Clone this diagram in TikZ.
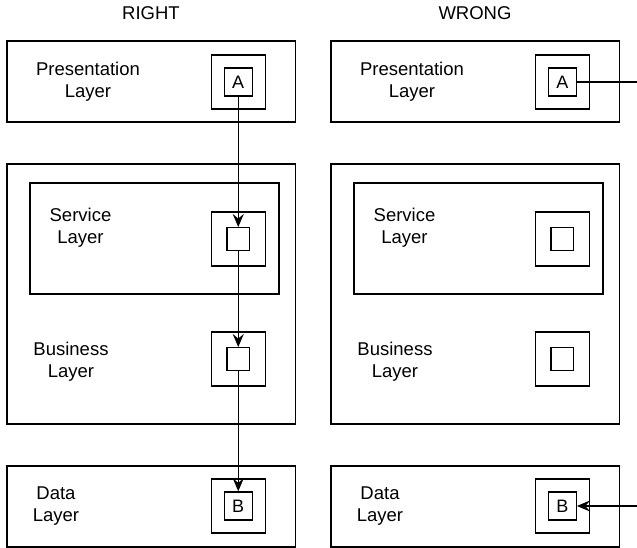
\documentclass[tikz,border=0pt]{standalone}
\usepackage{fontspec}
\setmainfont{Liberation Sans}
\usetikzlibrary{arrows.meta}
\tikzset{
  layer/.style={draw, line width=1.4pt, inner sep=0pt},
  slot/.style={draw, line width=1.4pt, minimum size=54pt, inner sep=0pt},
  cell/.style={draw, line width=1.4pt, minimum size=28pt, inner sep=0pt, font=\fontsize{18}{21}\selectfont},
  emptycell/.style={draw, line width=1.4pt, minimum size=22.5pt, inner sep=0pt},
  lbl/.style={align=center, inner sep=0pt, font=\fontsize{18.5}{22}\selectfont},
  call/.style={line width=1.4pt, -{Stealth[length=13pt,width=11pt,inset=4.5pt]}}
}
\begin{document}
\begin{tikzpicture}[x=1pt,y=1pt,yscale=-1,xscale=1]
\useasboundingbox (0,0) rectangle (637,548);
% headings
\node (right) [lbl] at (151,13.5) {RIGHT};
\node (wrong) [lbl] at (475,13.5) {WRONG};
% left column
\node (pres1) [layer, minimum width=288.5pt, minimum height=81pt] at (151.25,81.5) {};
\node (mid1) [layer, minimum width=288.5pt, minimum height=260pt] at (151.25,294) {};
\node (serv1) [layer, minimum width=249pt, minimum height=111pt] at (154.5,238.5) {};
\node (data1) [layer, minimum width=288.5pt, minimum height=81pt] at (151.25,506.5) {};
\node (presl1) [lbl] at (88,82) {Presentation\\Layer};
\node (servl1) [lbl] at (80.5,228) {Service\\Layer};
\node (busl1) [lbl] at (71,362) {Business\\Layer};
\node (datal1) [lbl] at (56,506) {Data\\Layer};
\node (sA1) [slot] at (238.25,82) {};
\node (cA1) [cell] at (238.25,82) {A};
\node (sS1) [slot] at (238.25,239) {};
\node (cS1) [emptycell] at (238.25,239) {};
\node (sU1) [slot] at (238.25,359) {};
\node (cU1) [emptycell] at (238.25,359) {};
\node (sB1) [slot] at (238.25,506) {};
\node (cB1) [cell] at (238.25,506) {B};
% right column
\node (pres2) [layer, minimum width=288.5pt, minimum height=81pt] at (475.25,81.5) {};
\node (mid2) [layer, minimum width=288.5pt, minimum height=260pt] at (475.25,294) {};
\node (serv2) [layer, minimum width=249pt, minimum height=111pt] at (478.5,238.5) {};
\node (data2) [layer, minimum width=288.5pt, minimum height=81pt] at (475.25,506.5) {};
\node (presl2) [lbl] at (412,82) {Presentation\\Layer};
\node (servl2) [lbl] at (404.5,228) {Service\\Layer};
\node (busl2) [lbl] at (395,362) {Business\\Layer};
\node (datal2) [lbl] at (380,506) {Data\\Layer};
\node (sA2) [slot] at (562.25,82) {};
\node (cA2) [cell] at (562.25,82) {A};
\node (sS2) [slot] at (562.25,239) {};
\node (cS2) [emptycell] at (562.25,239) {};
\node (sU2) [slot] at (562.25,359) {};
\node (cU2) [emptycell] at (562.25,359) {};
\node (sB2) [slot] at (562.25,506) {};
\node (cB2) [cell] at (562.25,506) {B};
\coordinate (outA) at (637,82);
\coordinate (inB) at (637,506);
% calls
\draw [call] (cA1) -- (cS1);
\draw [call] (cS1) -- (cU1);
\draw [call] (cU1) -- (cB1);
\draw [line width=1.4pt] (cA2) -- (outA);
\draw [call] (inB) -- (cB2);
\end{tikzpicture}
\end{document}
